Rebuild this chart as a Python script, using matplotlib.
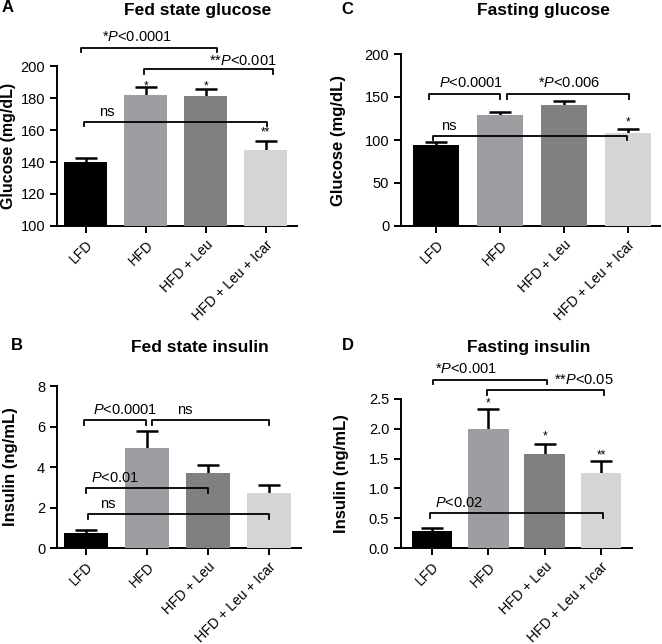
import matplotlib
matplotlib.use("Agg")
import matplotlib.pyplot as plt

plt.rcParams['font.family'] = ['Liberation Sans', 'DejaVu Sans']
plt.rcParams['mathtext.fontset'] = 'custom'
plt.rcParams['mathtext.rm'] = 'Liberation Sans'
plt.rcParams['mathtext.it'] = 'Liberation Sans:italic'

groups = ['LFD', 'HFD', 'HFD + Leu', 'HFD + Leu + Icar']
colors = ['#000000', '#9e9ea2', '#808080', '#d5d5d5']

# A - fed state glucose
fed_glucose = [140, 182, 181, 147.5]
fed_glucose_sem = [2.5, 5, 4.5, 5.5]
fed_glucose_stars = ['', '*', '*', '**']
fed_glucose_star_y = [188, 187, 187, 158.5]
# (x1, x2, y, y_drop, label, label_x, label_y)
fed_glucose_brackets = [
    (-0.08, 2.19, 211, 208.5, '*$P$<0.0001', 0.85, 218),
    (0.97, 3.12, 198, 195, '**$P$<0.001', 2.62, 203),
    (-0.03, 3.02, 165, 162.5, 'ns', 0.35, 171.5),
]

# C - fasting glucose
fast_glucose = [94, 129.5, 141, 108]
fast_glucose_sem = [3.5, 3, 4, 5]
fast_glucose_stars = ['', '', '', '*']
fast_glucose_star_y = [0, 0, 0, 120.5]
fast_glucose_brackets = [
    (-0.11, 1.0, 153.5, 147.5, '$P$<0.0001', 0.54, 166),
    (1.11, 3.01, 153.5, 147.5, '*$P$<0.006', 2.08, 166),
    (-0.05, 2.98, 105, 100, 'ns', 0.2, 116),
]

# B - fed state insulin
fed_insulin = [0.75, 4.95, 3.7, 2.7]
fed_insulin_sem = [0.12, 0.85, 0.4, 0.4]
fed_insulin_stars = ['', '', '', '']
fed_insulin_star_y = [0, 0, 0, 0]
fed_insulin_brackets = [
    (-0.03, 0.98, 6.3, 6.05, '$P$<0.0001', 0.64, 6.8),
    (1.08, 3.0, 6.3, 6.05, 'ns', 1.62, 6.8),
    (0.0, 2.0, 2.96, 2.7, '$P$<0.01', 0.48, 3.45),
    (0.03, 3.0, 1.68, 1.43, 'ns', 0.36, 2.17),
]

# D - fasting insulin
fast_insulin = [0.29, 1.99, 1.57, 1.26]
fast_insulin_sem = [0.05, 0.35, 0.18, 0.2]
fast_insulin_stars = ['', '*', '*', '**']
fast_insulin_star_y = [0, 2.42, 1.88, 1.55]
fast_insulin_brackets = [
    (0.02, 2.05, 2.82, 2.75, '*$P$<0.001', 0.6, 3.0),
    (0.97, 3.06, 2.65, 2.57, '**$P$<0.05', 2.69, 2.82),
    (-0.04, 3.04, 0.58, 0.5, '$P$<0.02', 0.48, 0.75),
]

W, H = 662, 644
fig = plt.figure(figsize=(W / 100, H / 100), dpi=100)


def px_axes(left, right, top, bottom):
    return fig.add_axes([left / W, 1 - bottom / H, (right - left) / W, (bottom - top) / H])


def panel(ax, vals, sem, stars, star_y, brackets, ylim, yticks, ylabel, xlim, labx,
          fmt=None, labsize=12):
    x = range(len(vals))
    ax.bar(x, vals, width=0.72, color=colors, zorder=3)
    ax.errorbar(x, vals, yerr=sem, fmt='none', ecolor='black', elinewidth=1.8,
                capsize=8, capthick=1.8, zorder=2)
    for i, s in enumerate(stars):
        if s:
            ax.text(i, star_y[i], s, ha='center', va='center', fontsize=8.5)
    for x1, x2, y, yd, lab, lx, ly in brackets:
        ax.plot([x1, x1, x2, x2], [yd, y, y, yd], color='black', lw=1.3,
                clip_on=False, zorder=4)
        ax.text(lx, ly, lab, ha='center', va='center', fontsize=10.5)
    ax.set_ylim(*ylim)
    ax.set_yticks(yticks)
    if fmt:
        ax.set_yticklabels([fmt.format(t) for t in yticks])
    ax.set_xlim(*xlim)
    ax.set_xticks(list(x))
    ax.set_xticklabels(groups, rotation=45, ha='right', rotation_mode='anchor')
    ax.set_ylabel(ylabel, fontsize=labsize, fontweight='bold')
    ax.yaxis.set_label_coords(labx, 0.5)
    for side in ['top', 'right']:
        ax.spines[side].set_visible(False)
    for side in ['left', 'bottom']:
        ax.spines[side].set_linewidth(1.4)
    ax.tick_params(axis='y', width=1.4, length=5, labelsize=10.5)
    ax.tick_params(axis='x', width=1.4, length=5, labelsize=10)


axA = px_axes(57, 297, 66, 226)
panel(axA, fed_glucose, fed_glucose_sem, fed_glucose_stars, fed_glucose_star_y,
      fed_glucose_brackets, (100, 200), range(100, 201, 20), 'Glucose (mg/dL)',
      (-0.48, 3.52), -0.172, labsize=11.5)

axC = px_axes(401, 660, 54, 226)
panel(axC, fast_glucose, fast_glucose_sem, fast_glucose_stars, fast_glucose_star_y,
      fast_glucose_brackets, (0, 200), range(0, 201, 50), 'Glucose (mg/dL)',
      (-0.55, 3.5), -0.212)

axB = px_axes(57, 301, 386, 548)
panel(axB, fed_insulin, fed_insulin_sem, fed_insulin_stars, fed_insulin_star_y,
      fed_insulin_brackets, (0, 8), range(0, 9, 2), 'Insulin (ng/mL)',
      (-0.475, 3.525), -0.16)

axD = px_axes(401, 632, 399, 548)
panel(axD, fast_insulin, fast_insulin_sem, fast_insulin_stars, fast_insulin_star_y,
      fast_insulin_brackets, (0, 2.5), [0, 0.5, 1.0, 1.5, 2.0, 2.5], 'Insulin (ng/mL)',
      (-0.55, 3.55), -0.225, fmt='{:.1f}')

titles = [('Fed state glucose', 198, 11), ('Fasting glucose', 543, 11),
          ('Fed state insulin', 200, 347), ('Fasting insulin', 529, 347)]
for t, tx, ty in titles:
    fig.text(tx / W, 1 - ty / H, t, ha='center', va='center', fontsize=12.5, fontweight='bold')

letters = [('A', 8, 8), ('C', 347, 10), ('B', 17, 345), ('D', 348, 345)]
for t, tx, ty in letters:
    fig.text(tx / W, 1 - ty / H, t, ha='center', va='center', fontsize=12, fontweight='bold')

fig.savefig('out.png', dpi=100)
